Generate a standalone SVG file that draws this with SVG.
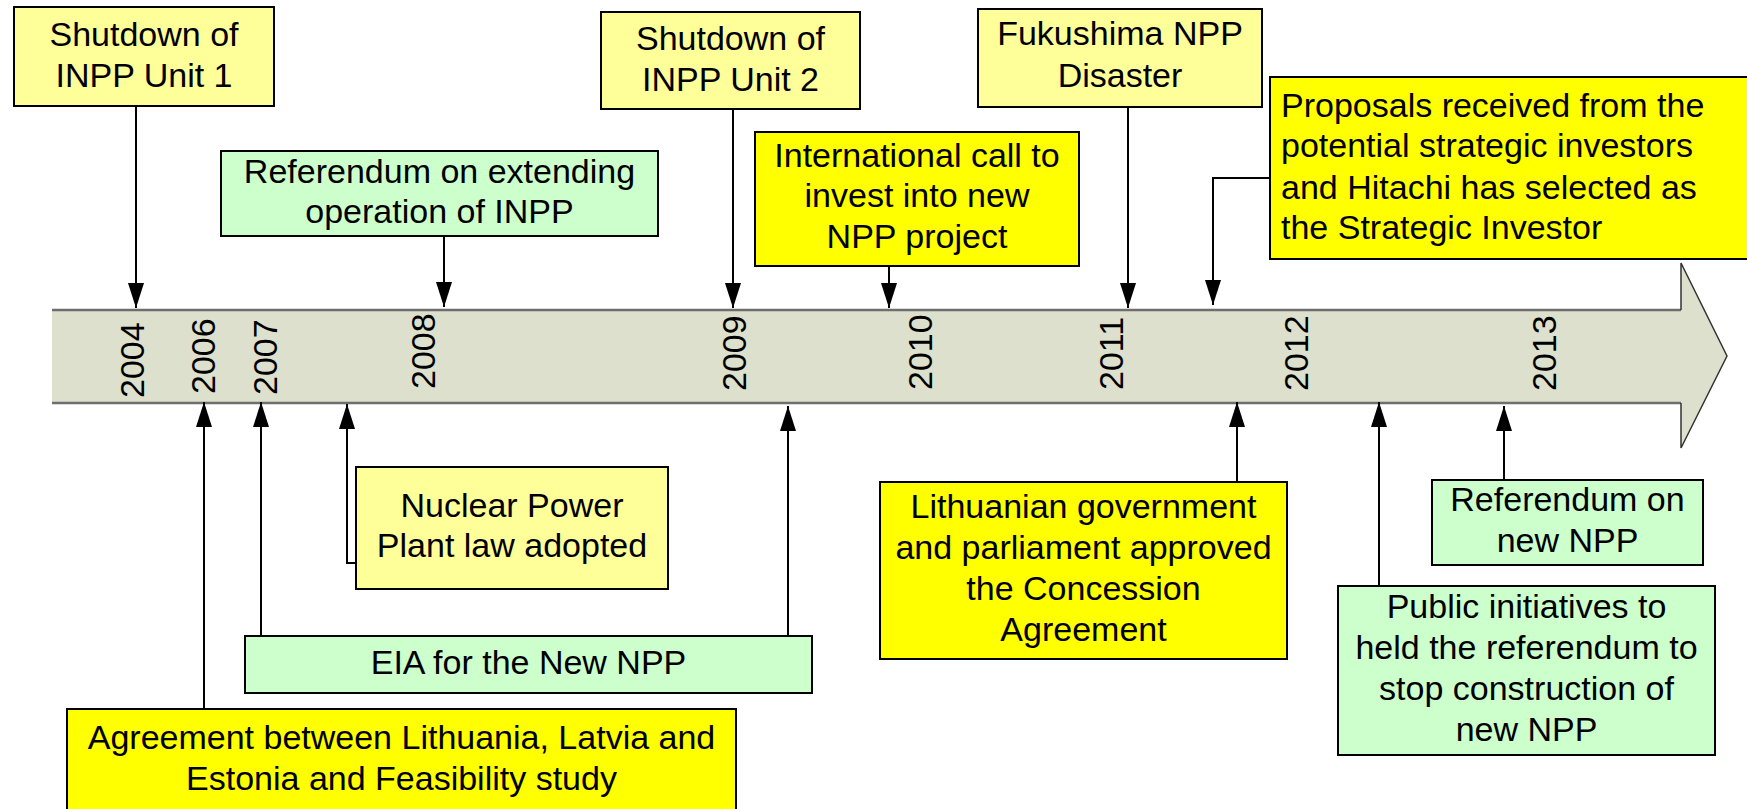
<svg xmlns="http://www.w3.org/2000/svg" width="1747" height="809" viewBox="0 0 1747 809">
<style>
.box{stroke:#000;stroke-width:2}
.ly{fill:#FFFF99}
.y{fill:#FFFF00}
.g{fill:#CCFFCC}
text{font-family:"Liberation Sans",Arial,sans-serif;font-size:34px;fill:#000}
.c{text-anchor:middle}
.con{fill:none;stroke:#000;stroke-width:2;marker-end:url(#ah)}
</style>
<defs>
<marker id="ah" markerUnits="userSpaceOnUse" markerWidth="25" markerHeight="16" refX="25" refY="8" orient="auto">
<path d="M0,0 L25,8 L0,16 z" fill="#000"/>
</marker>
</defs>
<rect width="1747" height="809" fill="#fff"/>
<g id="timeline">
<polygon points="52,310 1681,310 1681,263 1727,356 1681,448 1681,403 52,403" fill="#DDE0CC"/>
<polyline points="52,310 1681,310" fill="none" stroke="#6E6E6E" stroke-width="2.5"/>
<polyline points="52,403 1681,403" fill="none" stroke="#6E6E6E" stroke-width="2.5"/>
<polyline points="1681,310 1681,263 1727,356 1681,448 1681,403" fill="none" stroke="#333" stroke-width="1.5"/>
<text transform="rotate(-90 144 398)" x="144" y="398">2004</text>
<text transform="rotate(-90 215 394)" x="215" y="394">2006</text>
<text transform="rotate(-90 277 395)" x="277" y="395">2007</text>
<text transform="rotate(-90 435 389)" x="435" y="389">2008</text>
<text transform="rotate(-90 746 391)" x="746" y="391">2009</text>
<text transform="rotate(-90 932 390)" x="932" y="390">2010</text>
<text transform="rotate(-90 1123 390)" x="1123" y="390">2011</text>
<text transform="rotate(-90 1308 391)" x="1308" y="391">2012</text>
<text transform="rotate(-90 1556 391)" x="1556" y="391">2013</text>
</g>
<g id="connectors">
<polyline class="con" points="136,106 136,308"/>
<polyline class="con" points="444,236 444,307"/>
<polyline class="con" points="733,109 733,308"/>
<polyline class="con" points="889,266 889,308"/>
<polyline class="con" points="1128,107 1128,308"/>
<polyline class="con" points="1270,178 1213,178 1213,305"/>
<polyline class="con" points="204,709 204,402"/>
<polyline class="con" points="261,636 261,402"/>
<polyline class="con" points="356,563 347,563 347,404"/>
<polyline class="con" points="788,636 788,406"/>
<polyline class="con" points="1237,482 1237,402"/>
<polyline class="con" points="1379,586 1379,402"/>
<polyline class="con" points="1504,480 1504,406"/>
</g>
<g id="n_unit1">
<rect class="box ly" x="14" y="7" width="260" height="99"/>
<text class="c" x="144" y="46">Shutdown of</text>
<text class="c" x="144" y="87">INPP Unit 1</text>
</g>
<g id="n_ref_ext">
<rect class="box g" x="221" y="151" width="437" height="85"/>
<text class="c" x="439.5" y="183">Referendum on extending</text>
<text class="c" x="439.5" y="223">operation of INPP</text>
</g>
<g id="n_unit2">
<rect class="box ly" x="601" y="12" width="259" height="97"/>
<text class="c" x="730.5" y="50">Shutdown of</text>
<text class="c" x="730.5" y="91">INPP Unit 2</text>
</g>
<g id="n_intl">
<rect class="box y" x="755" y="132" width="324" height="134"/>
<text class="c" x="917" y="167">International call to</text>
<text class="c" x="917" y="207">invest into new</text>
<text class="c" x="917" y="248">NPP project</text>
</g>
<g id="n_fukushima">
<rect class="box ly" x="978" y="9" width="284" height="98"/>
<text class="c" x="1120" y="45">Fukushima NPP</text>
<text class="c" x="1120" y="87">Disaster</text>
</g>
<g id="n_proposals">
<rect class="box y" x="1270" y="77" width="490" height="182"/>
<text x="1281" y="117">Proposals received from the</text>
<text x="1281" y="157">potential strategic investors</text>
<text x="1281" y="199">and Hitachi has selected as</text>
<text x="1281" y="239">the Strategic Investor</text>
</g>
<g id="n_npp_law">
<rect class="box ly" x="356" y="467" width="312" height="122"/>
<text class="c" x="512" y="517">Nuclear Power</text>
<text class="c" x="512" y="557">Plant law adopted</text>
</g>
<g id="n_eia">
<rect class="box g" x="245" y="636" width="567" height="57"/>
<text class="c" x="528.5" y="674">EIA for the New NPP</text>
</g>
<g id="n_agreement">
<rect class="box y" x="67" y="709" width="669" height="110"/>
<text class="c" x="401.5" y="749">Agreement between Lithuania, Latvia and</text>
<text class="c" x="401.5" y="790">Estonia and Feasibility study</text>
</g>
<g id="n_concession">
<rect class="box y" x="880" y="482" width="407" height="177"/>
<text class="c" x="1083.5" y="518">Lithuanian government</text>
<text class="c" x="1083.5" y="559">and parliament approved</text>
<text class="c" x="1083.5" y="600">the Concession</text>
<text class="c" x="1083.5" y="641">Agreement</text>
</g>
<g id="n_ref_new">
<rect class="box g" x="1432" y="480" width="271" height="85"/>
<text class="c" x="1567.5" y="511">Referendum on</text>
<text class="c" x="1567.5" y="552">new NPP</text>
</g>
<g id="n_public">
<rect class="box g" x="1338" y="586" width="377" height="169"/>
<text class="c" x="1526.5" y="618">Public initiatives to</text>
<text class="c" x="1526.5" y="659">held the referendum to</text>
<text class="c" x="1526.5" y="700">stop construction of</text>
<text class="c" x="1526.5" y="741">new NPP</text>
</g>
</svg>
